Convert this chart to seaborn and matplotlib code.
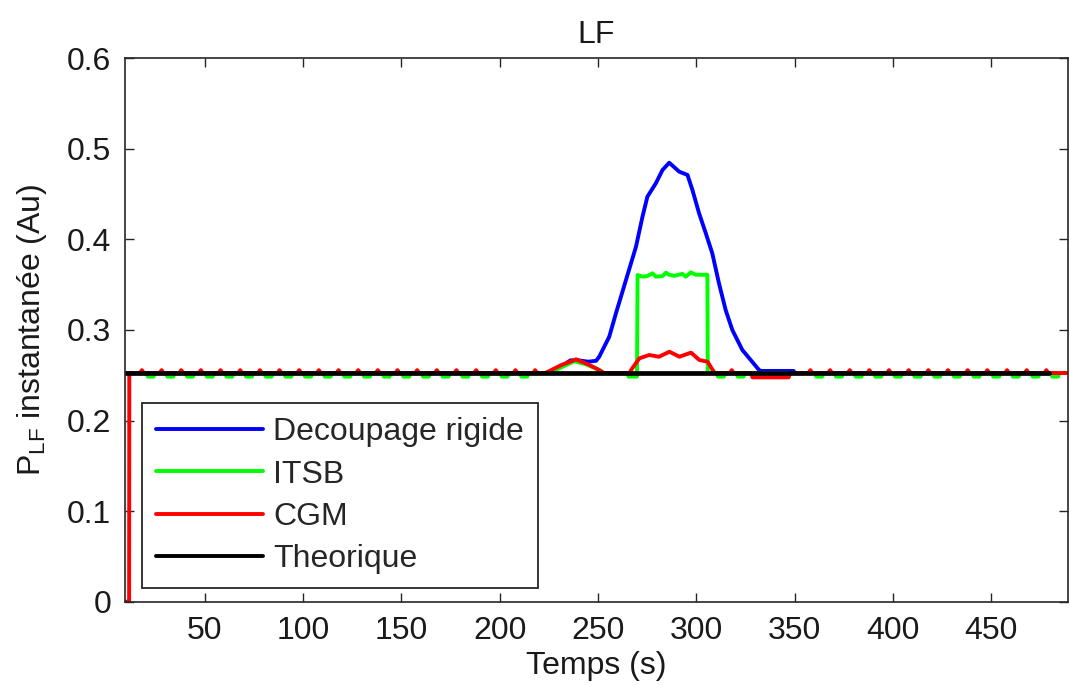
import numpy as np
import pandas as pd
import matplotlib
matplotlib.use("Agg")
import matplotlib.pyplot as plt
import seaborn as sns

# ---------------- data ----------------
title = "LF"
xlabel = "Temps (s)"
ylabel = r"$\mathregular{P_{LF}}$ instantanée (Au)"
series_labels = ["Decoupage rigide", "ITSB", "CGM", "Theorique"]
series_colors = ["#0000ff", "#00ff00", "#ff0000", "#000000"]
x_ticks = [50, 100, 150, 200, 250, 300, 350, 400, 450]
y_ticks = [0, 0.1, 0.2, 0.3, 0.4, 0.5, 0.6]
y_tick_labels = ["0", "0.1", "0.2", "0.3", "0.4", "0.5", "0.6"]
x_range = [9.4, 489.0]
y_range = [0.0, 0.6]

base_level = 0.2525      # theoretical level
cgm_spike_level = 0.2557  # small periodic bumps of CGM
itsb_dip_level = 0.2485   # small periodic dips of ITSB

# Decoupage rigide (blue)
blue_t = [9.4, 224, 230, 236, 240, 245, 249, 250.6, 255.7, 259.1, 264.2, 269.3,
          272.6, 275.1, 279.4, 282.8, 286.2, 291.3, 295.5, 298.0, 301.4, 304.8,
          308.1, 311.5, 314.9, 318.3, 323.4, 331.9, 333.0, 349.5, 350.0, 489.0]
blue_v = [0.2525, 0.2525, 0.258, 0.2665, 0.2665, 0.265, 0.266, 0.2705, 0.2926,
          0.3184, 0.3552, 0.392, 0.4251, 0.4472, 0.462, 0.4767, 0.4847, 0.4748,
          0.4712, 0.4546, 0.4288, 0.4068, 0.3847, 0.3516, 0.3221, 0.300, 0.2779,
          0.2558, 0.2548, 0.2548, 0.2525, 0.2525]

# ITSB (green): hump + block, plus periodic dips
itsb_dip_times = [22.5, 32.5, 42.5, 52.5, 62.5, 72.5, 82.5, 92.5, 102.5, 112.5,
                  122.5, 132.5, 142.5, 152.5, 162.5, 172.5, 182.5, 192.5, 202.5,
                  212.5, 312.5, 322.5, 362.5, 372.5, 382.5, 392.5, 402.5, 412.5,
                  422.5, 432.5, 442.5, 452.5, 462.5, 472.5, 482.5]
itsb_event_t = [225, 238, 244, 251, 253, 265, 265.5, 269.8, 270.1, 272.6, 275.0,
                277.7, 279.4, 282.8, 284.5, 286.2, 288.7, 292.9, 294.6, 297.2,
                299.7, 305.6, 305.8, 309.0]
itsb_event_v = [0.2525, 0.2655, 0.262, 0.2555, 0.2525, 0.2525, 0.2485, 0.2485,
                0.3607, 0.3589, 0.3595, 0.3626, 0.3589, 0.3595, 0.3633, 0.361,
                0.3598, 0.362, 0.3589, 0.3637, 0.361, 0.361, 0.2525, 0.2525]

# CGM (red): start from 0, humps, dip, plus periodic spikes
cgm_spike_times = [18, 28, 38, 48, 58, 68, 78, 88, 98, 108, 118, 128, 138, 148,
                   158, 168, 178, 188, 198, 208, 218, 318, 358, 368, 378, 388,
                   398, 408, 418, 428, 438, 448, 458, 468, 478]
cgm_start_t = [9.4, 11.5, 11.6]
cgm_start_v = [0.0, 0.0, 0.2525]
cgm_event_t = [223, 226, 231, 238.8, 245, 250, 253, 266, 266.8, 271, 276, 281,
               286.3, 291.4, 297.3, 301.5, 305.7, 308.3, 309.5, 328, 328.5, 347,
               347.5]
cgm_event_v = [0.2525, 0.2555, 0.261, 0.2676, 0.262, 0.2565, 0.2525, 0.2525,
               0.2558, 0.2687, 0.2724, 0.2705, 0.276, 0.2705, 0.275, 0.2669,
               0.265, 0.2558, 0.2525, 0.2525, 0.2477, 0.2477, 0.2525]
cgm_end_t = 489.0

# Theorique (black)
theo_t = [9.4, 479.5]
theo_v = [0.2525, 0.2525]


# ---------------- assemble the series ----------------
def merge(points):
    points = sorted(points, key=lambda p: p[0])
    return [p[0] for p in points], [p[1] for p in points]


pts = [(x_range[0], base_level), (x_range[1], base_level)]
pts += list(zip(itsb_event_t, itsb_event_v))
for c in itsb_dip_times:
    pts += [(c - 2.0, base_level), (c - 1.5, itsb_dip_level),
            (c + 1.5, itsb_dip_level), (c + 2.0, base_level)]
green_t, green_v = merge(pts)

pts = list(zip(cgm_start_t, cgm_start_v)) + list(zip(cgm_event_t, cgm_event_v))
pts += [(cgm_end_t, base_level)]
for c in cgm_spike_times:
    pts += [(c - 1.0, base_level), (c, cgm_spike_level), (c + 1.0, base_level)]
red_t, red_v = merge(pts)

frames = [
    pd.DataFrame({"t": blue_t, "v": blue_v}),
    pd.DataFrame({"t": green_t, "v": green_v}),
    pd.DataFrame({"t": red_t, "v": red_v}),
    pd.DataFrame({"t": theo_t, "v": theo_v}),
]

# ---------------- plot ----------------
sns.set_theme(style="ticks")
plt.rcParams["font.family"] = ["Liberation Sans", "DejaVu Sans"]
plt.rcParams["mathtext.fontset"] = "custom"
plt.rcParams["mathtext.rm"] = "Liberation Sans"
plt.rcParams["mathtext.it"] = "Liberation Sans"

FS = 23
TXT = "#1a1a1a"

fig = plt.figure(figsize=(10.7, 6.85), dpi=100)
ax = fig.add_axes([0.1168, 0.1216, 0.8813, 0.7933])

widths = [2.8, 2.8, 2.8, 3.4]
for df, lab, col, lw in zip(frames, series_labels, series_colors, widths):
    sns.lineplot(data=df, x="t", y="v", ax=ax, color=col, linewidth=lw,
                 label=lab, sort=False, estimator=None)

ax.set_xlim(x_range)
ax.set_ylim(y_range)
ax.set_xticks(x_ticks)
ax.set_yticks(y_ticks)
ax.set_xticklabels([str(v) for v in x_ticks])
ax.set_yticklabels(y_tick_labels)

ax.tick_params(direction="in", top=True, right=True, length=6.5, width=1.0,
               labelsize=FS, pad=10, colors="#262626", labelcolor=TXT)
for s in ax.spines.values():
    s.set_visible(True)
    s.set_linewidth(1.2)
    s.set_color("#262626")

ax.set_title(title, fontsize=FS, pad=11, color=TXT)
ax.set_xlabel(xlabel, fontsize=FS, labelpad=4, color=TXT)
ax.set_ylabel(ylabel, fontsize=FS, labelpad=13, color=TXT)

leg = ax.legend(loc="lower left", bbox_to_anchor=(0.018, 0.0247),
                borderaxespad=0, fontsize=FS, handlelength=3.35,
                handletextpad=0.3, labelspacing=0.38, borderpad=0.45,
                frameon=True, fancybox=False, edgecolor="#262626",
                framealpha=1)
leg.get_frame().set_linewidth(1.3)
for line in leg.get_lines():
    line.set_linewidth(2.8)

fig.savefig("out.png", dpi=100)
